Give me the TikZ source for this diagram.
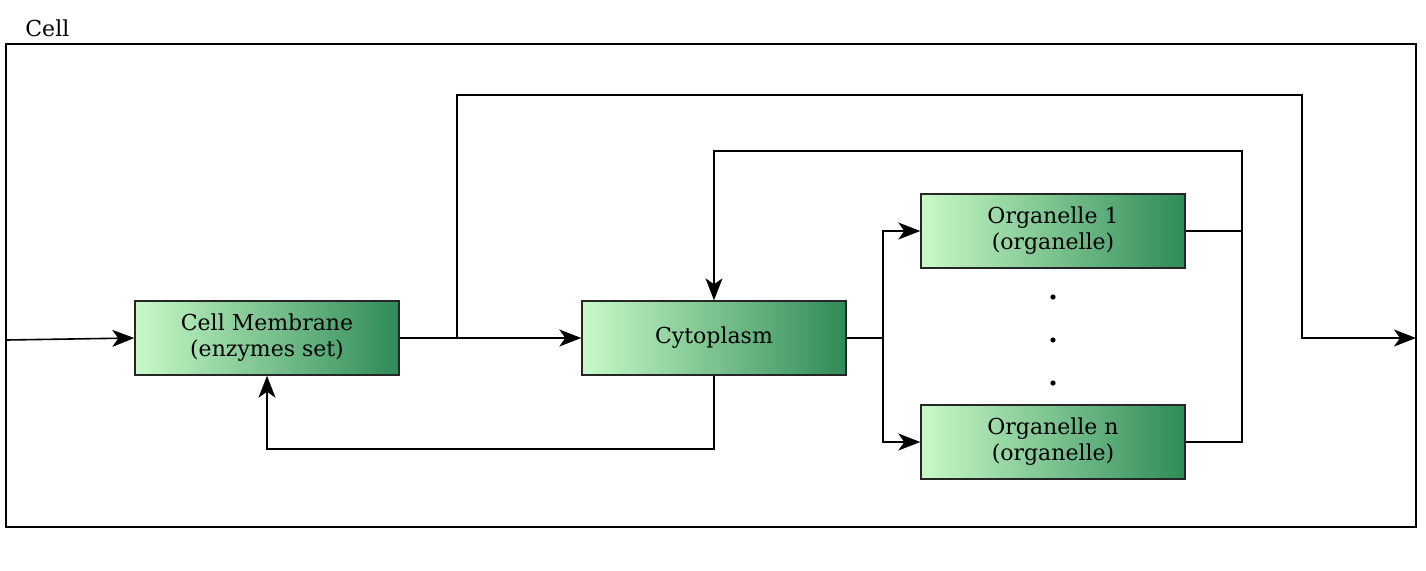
\documentclass[tikz,border=0pt]{standalone}
\usepackage{fontspec}
\setmainfont{DejaVu Serif}
\usetikzlibrary{arrows.meta,positioning}
\definecolor{orglight}{RGB}{200,250,200}
\definecolor{orgdark}{RGB}{46,139,87}
\begin{document}
\begin{tikzpicture}[x=0.5pt,y=-0.5pt,
  block/.style={draw=black!85,line width=0.7pt,left color=orglight,right color=orgdark,
    minimum width=132pt,minimum height=37pt,align=center,inner sep=2pt,
    font=\fontsize{11}{13}\selectfont},
  flow/.style={-{Stealth[length=11pt,width=8.5pt,inset=3pt]},line width=0.8pt},
  wire/.style={line width=0.8pt}]
\useasboundingbox (0,0) rectangle (1426,570);

% the cell frame
\node[draw,line width=0.8pt,minimum width=705pt,minimum height=241.5pt,inner sep=0pt] (cell) at (711,285.5) {};
\node[anchor=base west,inner sep=0pt,font=\fontsize{11}{13}\selectfont] (celllbl) at (25,36) {Cell};

% blocks
\node[block] (mem) at (267,338) {Cell Membrane\\(enzymes set)};
\node[block] (cyto) at (714,338) {Cytoplasm};
\node[block] (org1) at (1053,231) {Organelle 1\\(organelle)};
\node[block] (orgn) at (1053,442) {Organelle n\\(organelle)};
\foreach \y in {297,340,383}
  \fill (1053,\y) circle (1.3pt);

% helper points
\coordinate (in) at (6,340);
\coordinate (out) at (1416,338);
\coordinate (split) at (457,338);
\coordinate (top1) at (1302,95);
\coordinate (fork) at (883,338);
\coordinate (join) at (1242,231);
\coordinate (back) at (1242,151);

% connectors
\draw[flow] (in) -- (mem.west);
\draw[flow] (mem.east) -- (cyto.west);
\draw[flow] (split) |- (top1) |- (out);
\draw[flow] (cyto.south) -- ++(0,73) -| (mem.south);
\draw[wire] (cyto.east) -- (fork);
\draw[flow] (fork) |- (org1.west);
\draw[flow] (fork) |- (orgn.west);
\draw[wire] (org1.east) -- (join);
\draw[wire] (orgn.east) -| (join);
\draw[flow] (join) -- (back) -| (cyto.north);
\end{tikzpicture}
\end{document}
